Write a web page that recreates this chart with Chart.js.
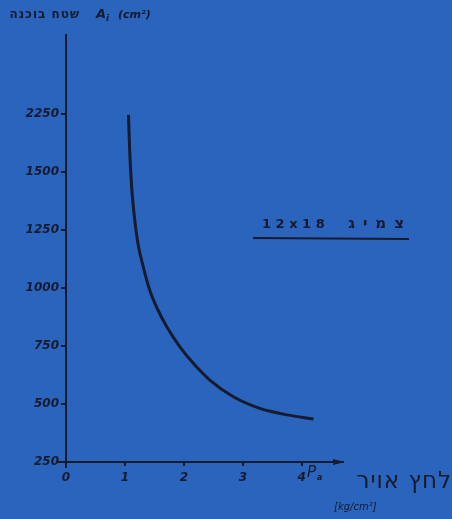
<!DOCTYPE html>
<html>
<head>
<meta charset="utf-8">
<script src="https://cdn.jsdelivr.net/npm/chart.js@4"></script>
<style>
  html, body { margin: 0; padding: 0; background: #2b64bd; }
  #wrap { position: relative; width: 452px; height: 519px; overflow: hidden; }
  canvas { display: block; }
  .he { position: absolute; direction: rtl; color: #161b2e;
        font-family: "DejaVu Sans"; white-space: nowrap; line-height: 1; }
</style>
</head>
<body>
<div id="wrap">
  <canvas id="chart" width="452" height="519"></canvas>
  <div class="he" dir="rtl" style="right:372px; top:8px; font-size:12px; font-weight:bold; letter-spacing:1px;">שטח בוכנה</div>
  <div class="he" dir="rtl" style="right:0px; top:469px; font-size:23px; letter-spacing:1px;">לחץ אויר</div>
  <div class="he" dir="rtl" style="right:40px; top:216px; font-size:15px; font-weight:bold; letter-spacing:8px;">צמיג</div>
</div>
<script>
// === Data ===
const pressure = [1.06, 1.08, 1.11, 1.16, 1.22, 1.31, 1.42, 1.56, 1.71, 1.93, 2.16, 2.44, 2.84, 3.29, 3.75, 4.20];
const area = [1746, 1595, 1451, 1307, 1193, 1092, 991, 905, 833, 747, 675, 603, 531, 481, 453, 435];

const xTickValues = [0, 1, 2, 3, 4];
const yTickValues = [250, 500, 750, 1000, 1250, 1500, 1750];
const yTickLabels = ['250', '500', '750', '1000', '1250', '1500', '2250'];

const ink = '#161b2e';
const tickFont = { family: 'DejaVu Sans', size: 12, style: 'italic', weight: 'bold' };

// === Annotations: axis titles, arrow, legend ===
const annotations = {
  id: 'annotations',
  afterDraw(chart) {
    const c = chart.ctx;
    const a = chart.chartArea;
    c.save();
    c.fillStyle = ink;
    c.strokeStyle = ink;
    c.textBaseline = 'middle';

    // axis extensions + arrow head on x axis
    c.lineWidth = 2;
    c.beginPath();
    c.moveTo(a.left - 8, a.bottom); c.lineTo(a.left, a.bottom);
    c.moveTo(a.left, a.bottom); c.lineTo(a.left, a.bottom + 6);
    c.stroke();
    c.beginPath();
    c.moveTo(a.right + 2, a.bottom);
    c.lineTo(a.right - 10, a.bottom - 3);
    c.lineTo(a.right - 10, a.bottom + 3);
    c.closePath();
    c.fill();

    // y title (latin part)
    c.textAlign = 'left';
    c.font = 'italic bold 13px "DejaVu Sans"';
    c.fillText('A', 96, 15);
    c.font = 'italic bold 9px "DejaVu Sans"';
    c.fillText('i', 106, 19);
    c.font = 'italic bold 11px "DejaVu Sans"';
    c.fillText('(cm²)', 118, 15);

    // x title (latin part)
    c.font = 'italic 15px "DejaVu Sans"';
    c.fillText('P', 307, 473);
    c.font = 'italic bold 8px "DejaVu Sans"';
    c.fillText('a', 317, 478);
    c.font = 'italic 10px "DejaVu Sans"';
    c.fillText('[kg/cm²]', 334, 507);

    // legend label
    c.font = 'bold 13px "DejaVu Sans"';
    c.fillText('1 2 x 1 8', 262, 225);
    c.lineWidth = 2;
    c.beginPath();
    c.moveTo(253, 238); c.lineTo(409, 239);
    c.stroke();
    c.restore();
  }
};

new Chart(document.getElementById('chart'), {
  type: 'scatter',
  data: {
    datasets: [{
      data: pressure.map((p, i) => ({ x: p, y: area[i] })),
      showLine: true,
      borderColor: ink,
      borderWidth: 3,
      pointRadius: 0,
      cubicInterpolationMode: 'monotone'
    }]
  },
  options: {
    responsive: false,
    animation: false,
    layout: { padding: { left: 0, right: 109, top: 35, bottom: 0 } },
    plugins: { legend: { display: false }, tooltip: { enabled: false } },
    scales: {
      x: {
        type: 'linear',
        min: 0,
        max: 4.7,
        afterBuildTicks: axis => { axis.ticks = xTickValues.map(v => ({ value: v })); },
        afterFit: axis => { axis.height = 57; },
        grid: { drawOnChartArea: false, drawTicks: true, tickLength: 4, color: ink, lineWidth: 2 },
        border: { display: true, color: ink, width: 2 },
        ticks: { color: ink, font: tickFont, padding: 5 }
      },
      y: {
        type: 'linear',
        min: 250,
        max: 2090,
        afterBuildTicks: axis => { axis.ticks = yTickValues.map(v => ({ value: v })); },
        afterFit: axis => { axis.width = 66; },
        grid: { drawOnChartArea: false, drawTicks: true, tickLength: 5, color: ink, lineWidth: 2 },
        border: { display: true, color: ink, width: 2 },
        ticks: {
          color: ink,
          font: tickFont,
          padding: 2,
          callback: (v) => yTickLabels[yTickValues.indexOf(v)]
        }
      }
    }
  },
  plugins: [annotations]
});
</script>
</body>
</html>
